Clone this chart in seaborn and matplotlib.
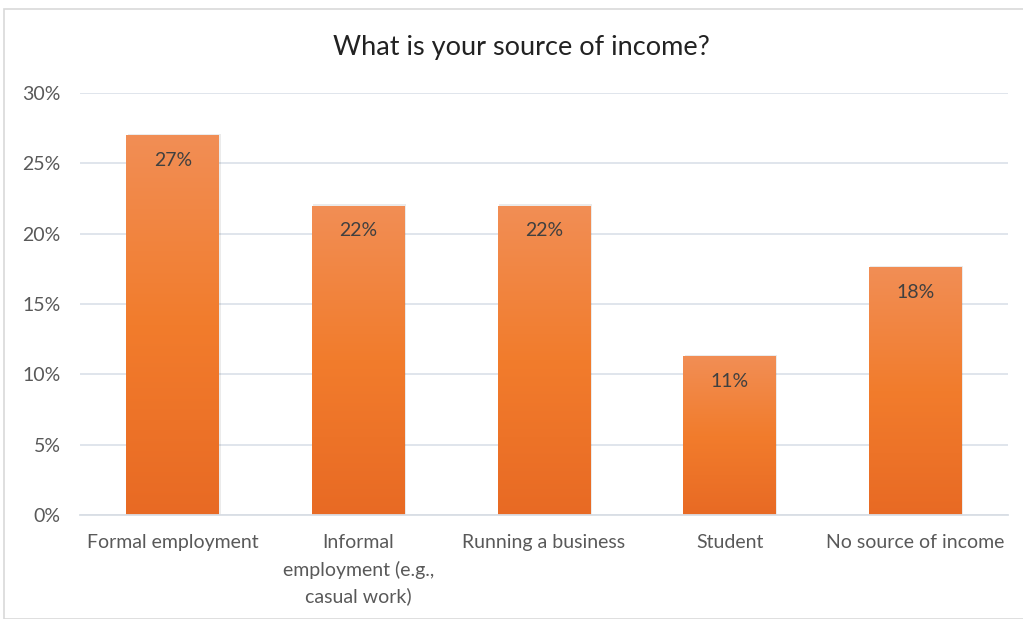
import matplotlib
matplotlib.use("Agg")
import matplotlib.pyplot as plt
import seaborn as sns
import numpy as np
import pandas as pd
from matplotlib.colors import LinearSegmentedColormap
from matplotlib.patches import Rectangle

categories = ["Formal employment", "Informal\nemployment (e.g.,\ncasual work)",
              "Running a business", "Student", "No source of income"]
values = [27.0, 22.0, 22.0, 11.3, 17.6]
labels = ["27%", "22%", "22%", "11%", "18%"]
yticks = [0, 5, 10, 15, 20, 25, 30]
ytick_labels = ["0%", "5%", "10%", "15%", "20%", "25%", "30%"]
title = "What is your source of income?"

sns.set_theme(style="white")
plt.rcParams["font.family"] = ["Lato", "DejaVu Sans"]

df = pd.DataFrame({"cat": categories, "val": values})

fig = plt.figure(figsize=(10.23, 6.19), dpi=100)
ax = fig.add_axes([80/1023, 1-515/619, 928/1023, 422/619])

sns.barplot(data=df, x="cat", y="val", color="#F07A2A", width=0.5, ax=ax,
            edgecolor="none", saturation=1)

cmap = LinearSegmentedColormap.from_list(
    "g", [(0.0, "#E86A24"), (0.5, "#F27C2C"), (1.0, "#F18E55")])
grad = np.linspace(0, 1, 256).reshape(-1, 1)
for p in ax.patches:
    x0, y0 = p.get_x(), p.get_y()
    w, h = p.get_width(), p.get_height()
    sh = Rectangle((x0 + 0.008, y0), w, h + 0.08, facecolor="#000000", alpha=0.08,
                   edgecolor="none", zorder=1.5)
    ax.add_patch(sh)
    im = ax.imshow(grad, extent=[x0, x0 + w, y0, y0 + h], origin="lower",
                   cmap=cmap, aspect="auto", zorder=2)
    im.set_clip_path(p)
    p.set_zorder(2)

for i, (v, lab) in enumerate(zip(values, labels)):
    ax.text(i, v - 1.8, lab, ha="center", va="center", fontsize=14,
            color="#404040", zorder=3)

ax.set_xlim(-0.5, len(categories) - 0.5)
ax.set_ylim(0, 30)
ax.set_yticks(yticks)
ax.set_yticklabels(ytick_labels, fontsize=14, color="#595959")
ax.tick_params(axis="x", labelsize=14, colors="#595959", length=0, pad=14)
for t in ax.get_xticklabels():
    t.set_linespacing(1.6)
ax.tick_params(axis="y", length=0, pad=14)
ax.set_xlabel("")
ax.set_ylabel("")
ax.yaxis.grid(True, color="#DDE3EA", linewidth=1.3)
ax.set_axisbelow(True)
for s in ["top", "right", "left"]:
    ax.spines[s].set_visible(False)
ax.spines["bottom"].set_color("#D9DEE5")
ax.spines["bottom"].set_linewidth(1.3)

fig.text(521/1023, 1-47/619, title, ha="center", va="center", fontsize=19.5,
         color="#222222")

border = Rectangle((4/1023, 0), 1.2, 1 - 9/619, transform=fig.transFigure,
                   fill=False, edgecolor="#D9D9D9", linewidth=1.2)
fig.patches.append(border)

fig.savefig("out.png", dpi=100)
